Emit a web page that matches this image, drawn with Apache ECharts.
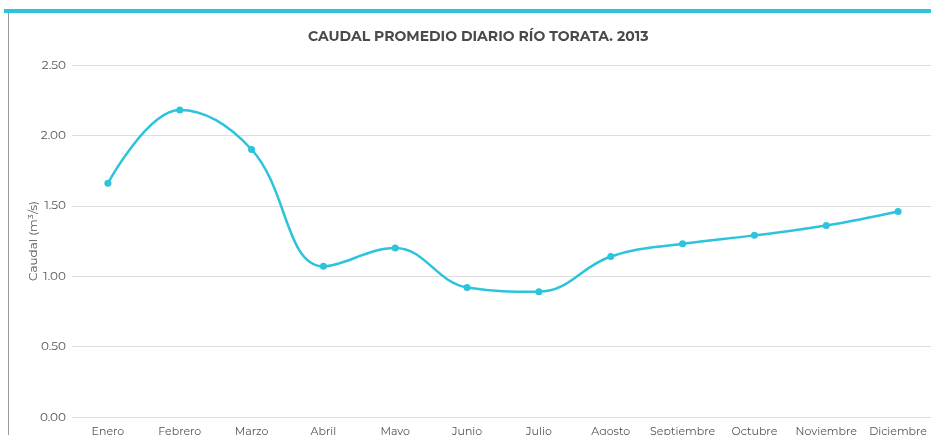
<!DOCTYPE html>
<html>
<head>
<meta charset="utf-8">
<script src="https://cdn.jsdelivr.net/npm/echarts@6/dist/echarts.min.js"></script>
<style>
  html, body { margin: 0; padding: 0; background: #fff; }
  #main { width: 931px; height: 435px; }
</style>
</head>
<body>
<div id="main"></div>
<script>
// datos del gráfico
var meses = ["Enero", "Febrero", "Marzo", "Abril", "Mayo", "Junio", "Julio",
  "Agosto", "Septiembre", "Octubre", "Noviembre", "Diciembre"];
var caudal = [1.66, 2.18, 1.90, 1.07, 1.20, 0.92, 0.89, 1.14, 1.23, 1.29, 1.36, 1.46];

var myChart = echarts.init(document.getElementById("main"));

var option = {
  animation: false,
  textStyle: { fontFamily: "Montserrat, 'Open Sans', sans-serif" },
  title: {
    text: "CAUDAL PROMEDIO DIARIO RÍO TORATA. 2013",
    left: 303,
    top: 25,
    textStyle: { fontSize: 14, fontWeight: "bold", color: "#4a4a4a" }
  },
  graphic: [
    { type: "rect", shape: { x: 4, y: 9, width: 927, height: 4 }, style: { fill: "#2cc3dc" } },
    { type: "line", shape: { x1: 8.5, y1: 13, x2: 8.5, y2: 435 }, style: { stroke: "#9a9a9a", lineWidth: 1 } }
  ],
  grid: { left: 72, top: 65, width: 862, height: 352, outerBoundsMode: "none" },
  xAxis: {
    type: "category",
    data: meses,
    boundaryGap: true,
    axisLine: { show: false },
    axisTick: { show: false },
    axisLabel: { color: "#555", fontSize: 11, margin: 9, interval: 0 }
  },
  yAxis: {
    type: "value",
    min: 0,
    max: 2.5,
    interval: 0.5,
    name: "Caudal (m³/s)",
    nameLocation: "middle",
    nameGap: 33,
    nameMoveOverlap: false,
    nameTextStyle: { color: "#555", fontSize: 12 },
    axisLine: { show: false },
    axisTick: { show: false },
    axisLabel: {
      color: "#555",
      fontSize: 12,
      margin: 6,
      formatter: function (v) { return v.toFixed(2); }
    },
    splitLine: { lineStyle: { color: "#dedede", width: 1 } }
  },
  series: [{
    type: "line",
    data: caudal,
    smooth: 0.4,
    symbol: "circle",
    symbolSize: 7,
    lineStyle: { color: "#2cc3dc", width: 2.5 },
    itemStyle: { color: "#2cc3dc" }
  }]
};

myChart.setOption(option);
</script>
</body>
</html>
